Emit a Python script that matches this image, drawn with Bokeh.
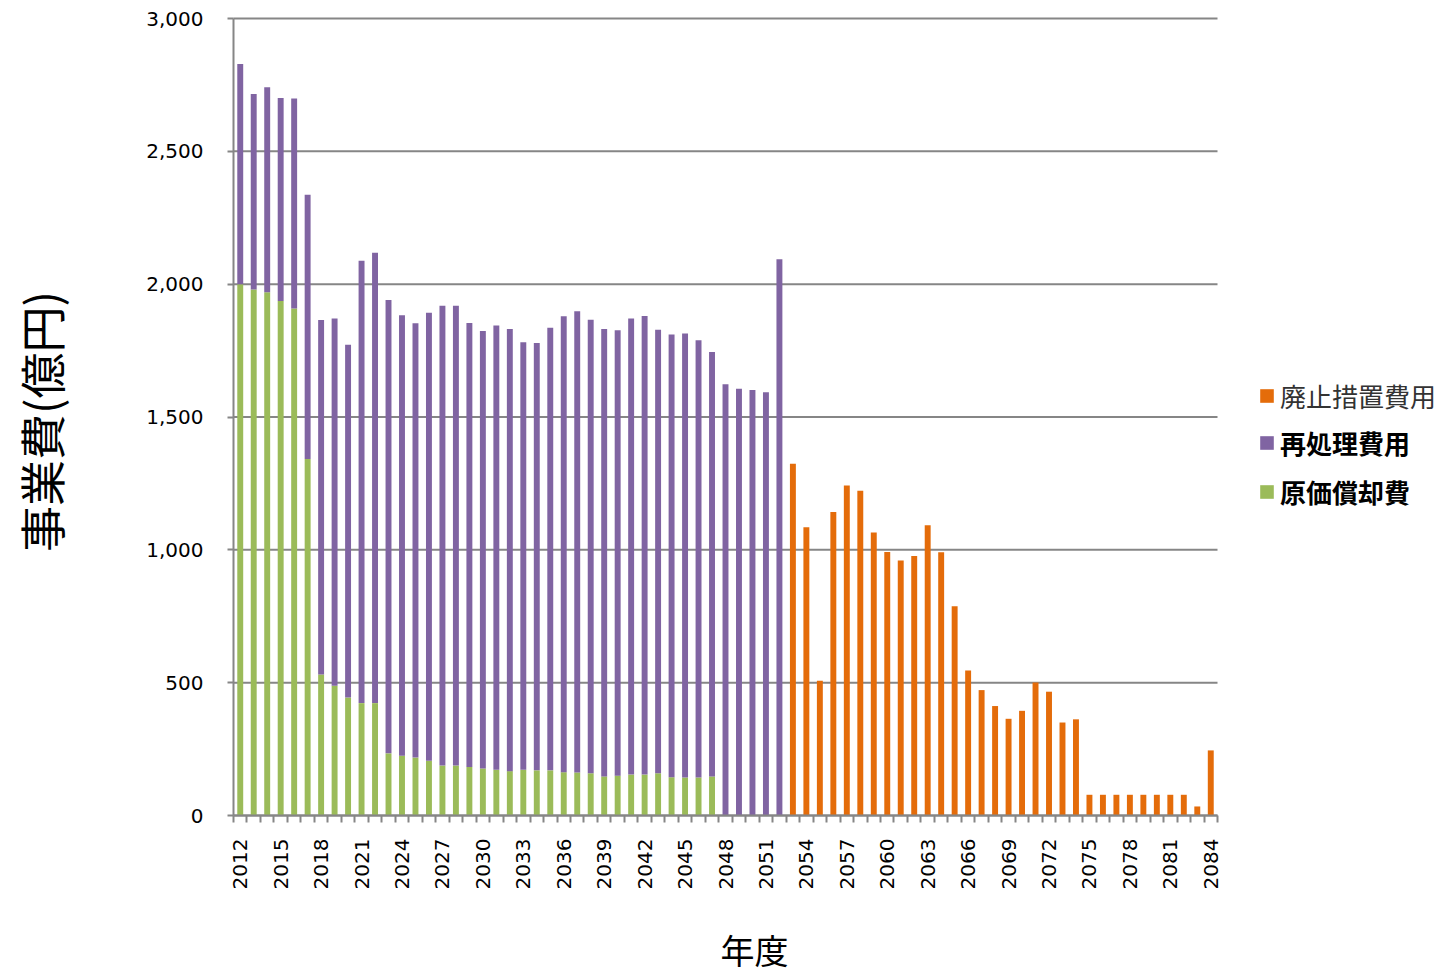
import math
from bokeh.plotting import figure
from bokeh.models import (ColumnDataSource, FixedTicker, NumeralTickFormatter,
                          Legend, LegendItem, Label, Range1d)
from bokeh.embed import file_html
from bokeh.resources import INLINE

# ---- data (億円) ----
years = list(range(2012, 2085))
tick_years = [2012, 2015, 2018, 2021, 2024, 2027, 2030, 2033, 2036, 2039, 2042,
              2045, 2048, 2051, 2054, 2057, 2060, 2063, 2066, 2069, 2072, 2075,
              2078, 2081, 2084]
y_ticks = [0, 500, 1000, 1500, 2000, 2500, 3000]

# 原価償却費 2012-2047
genka_vals = [2000, 1980, 1970, 1937, 1908, 1342, 531, 488, 444, 423,
              423, 234, 225, 218, 206, 188, 188, 183, 177, 172,
              167, 172, 170, 170, 163, 162, 159, 147, 150, 154,
              154, 159, 144, 143, 143, 147]
# 再処理費用 2012-2052
saishori_vals = [829, 736, 771, 764, 791, 995, 1334, 1383, 1328, 1665,
                 1695, 1706, 1658, 1635, 1686, 1731, 1731, 1671, 1647, 1672,
                 1664, 1609, 1609, 1666, 1716, 1736, 1707, 1684, 1677, 1717,
                 1726, 1669, 1667, 1671, 1646, 1598, 1623, 1606, 1602, 1593,
                 2094]
# 廃止措置費用 2053-2084
haishi_vals = [1324, 1085, 507, 1142, 1242, 1222, 1065, 992, 960, 977,
               1093, 991, 788, 546, 472, 412, 364, 394, 501, 466,
               350, 362, 78, 78, 78, 78, 78, 78, 78, 78,
               34, 245]

genka = genka_vals + [0] * (len(years) - len(genka_vals))
saishori = saishori_vals + [0] * (len(years) - len(saishori_vals))
haishi = [0] * (len(years) - len(haishi_vals)) + haishi_vals

GREEN = "#9BBB59"
PURPLE = "#8064A2"
ORANGE = "#E46C0A"
GRAY = "#868686"

# ---- layout geometry (pixels) ----
W, H = 1440, 973
PLOT_L, PLOT_R, PLOT_T, PLOT_B = 233, 1217, 18, 815
Y_MAX = 3000
x_first = years[0] - 0.5
x_last = years[-1] + 0.5
px_x = (PLOT_R - PLOT_L) / (x_last - x_first)
px_y = (PLOT_B - PLOT_T) / Y_MAX
x_start = x_first - PLOT_L / px_x
x_end = x_last + (W - PLOT_R) / px_x
y_start = -(H - PLOT_B) / px_y
y_end = Y_MAX + PLOT_T / px_y

src = ColumnDataSource(dict(year=years, genka=genka, saishori=saishori, haishi=haishi))

p = figure(width=W, height=H,
           x_range=Range1d(x_start, x_end), y_range=Range1d(y_start, y_end),
           output_backend="svg", toolbar_location=None,
           min_border=0, min_border_left=0, min_border_right=0,
           min_border_top=0, min_border_bottom=0)
p.outline_line_color = None
p.background_fill_color = "white"
p.border_fill_color = "white"

# horizontal grid lines limited to the category area
p.segment(x0=[x_first] * len(y_ticks), x1=[x_last] * len(y_ticks),
          y0=y_ticks, y1=y_ticks, line_color=GRAY, line_width=2)

rs = p.vbar_stack(["genka", "saishori", "haishi"], x="year", width=0.44,
                  color=[GREEN, PURPLE, ORANGE], line_color=None, source=src)

# y axis
yax = p.yaxis[0]
yax.fixed_location = x_first
yax.bounds = (0, Y_MAX)
yax.ticker = FixedTicker(ticks=y_ticks)
yax.formatter = NumeralTickFormatter(format="0,0")
yax.major_tick_out = 6
yax.major_tick_in = 0
yax.minor_tick_line_color = None
yax.major_tick_line_color = GRAY
yax.major_tick_line_width = 2
yax.axis_line_color = GRAY
yax.axis_line_width = 2
yax.major_label_standoff = 24
yax.major_label_text_font = "DejaVu Sans"
yax.major_label_text_font_size = "20px"
yax.major_label_text_color = "#000000"

# x axis
xax = p.xaxis[0]
xax.fixed_location = 0
xax.bounds = (x_first, x_last)
xax.ticker = FixedTicker(ticks=tick_years,
                         minor_ticks=[y - 0.5 for y in years] + [x_last])
xax.major_tick_line_color = None
xax.major_tick_out = 0
xax.major_tick_in = 0
xax.minor_tick_out = 7
xax.minor_tick_in = 0
xax.minor_tick_line_color = GRAY
xax.minor_tick_line_width = 2
xax.axis_line_color = GRAY
xax.axis_line_width = 2
xax.major_label_orientation = math.pi / 2
xax.major_label_standoff = 16
xax.major_label_text_font = "DejaVu Sans"
xax.major_label_text_font_size = "20px"
xax.major_label_text_color = "#000000"

p.xgrid.grid_line_color = None
p.ygrid.grid_line_color = None

# axis titles (screen units, origin at bottom-left)
p.add_layout(Label(x=39, y=H - 421, x_units="screen", y_units="screen",
                   text="事業費(億円)", angle=math.pi / 2, text_align="center",
                   text_baseline="middle", text_font="Noto Sans CJK JP",
                   text_font_size="46px", text_font_style="normal",
                   text_color="#000000"))
p.add_layout(Label(x=754, y=H - 949, x_units="screen", y_units="screen",
                   text="年度", text_align="center", text_baseline="middle",
                   text_font="Noto Sans CJK JP", text_font_size="34px",
                   text_font_style="normal", text_color="#000000"))

# legends
common = dict(border_line_color=None, background_fill_alpha=0, padding=0, margin=0,
              glyph_width=17, glyph_height=17, label_height=30, label_standoff=5,
              label_text_font="Noto Sans CJK JP", label_text_font_size="26px")
leg1 = Legend(items=[LegendItem(label="廃止措置費用", renderers=[rs[2]])],
              location=(1258, H - 414), label_text_color="#333333",
              label_text_font_style="normal", **common)
leg2 = Legend(items=[LegendItem(label="再処理費用", renderers=[rs[1]]),
                     LegendItem(label="原価償却費", renderers=[rs[0]])],
              location=(1258, H - 510), spacing=12, label_text_color="#000000",
              label_text_font_style="bold", **common)
p.add_layout(leg1, "center")
p.add_layout(leg2, "center")

open("out.html", "w").write(file_html(p, INLINE))
